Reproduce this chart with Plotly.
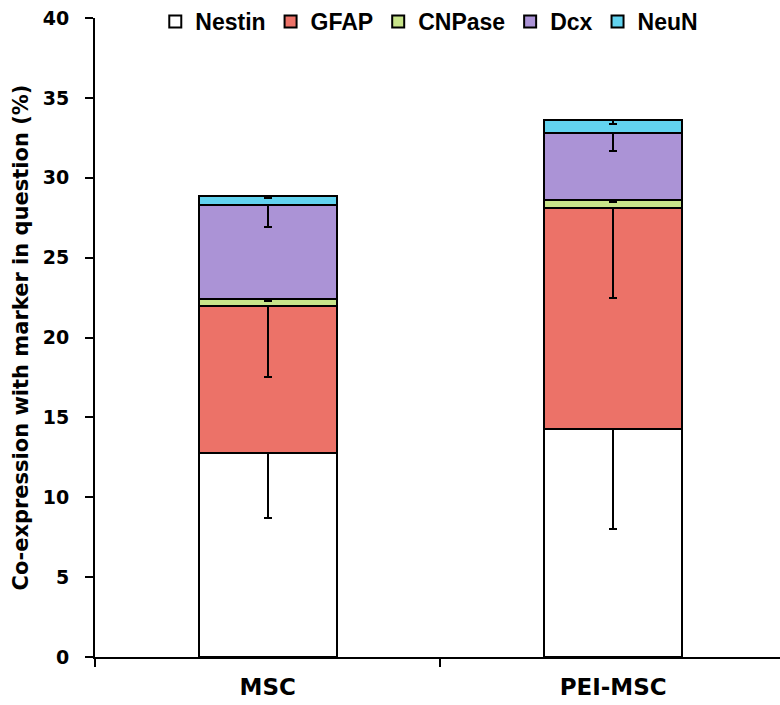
import plotly.graph_objects as go

categories = ["MSC", "PEI-MSC"]
markers = ["Nestin", "GFAP", "CNPase", "Dcx", "NeuN"]
nestin = [12.8, 14.25]
gfap = [9.2, 13.85]
cnpase = [0.4, 0.5]
dcx = [5.9, 4.2]
neun = [0.55, 0.8]
nestin_err = [4.1, 6.25]
gfap_err = [4.5, 5.6]
cnpase_err = [0.1, 0.1]
dcx_err = [1.4, 1.1]
neun_err = [0.1, 0.25]

values = [nestin, gfap, cnpase, dcx, neun]
errors = [nestin_err, gfap_err, cnpase_err, dcx_err, neun_err]
colors = ["#ffffff", "#ec7268", "#c8e48a", "#ab93d6", "#62d3ef"]

fig = go.Figure()
for name, v, e, c in zip(markers, values, errors, colors):
    fig.add_trace(go.Bar(
        x=categories, y=v, name=name,
        marker=dict(color=c, line=dict(color="black", width=2)),
        width=0.4,
        error_y=dict(type="data", symmetric=False, array=[0, 0], arrayminus=e,
                     color="black", thickness=2, width=4),
    ))

dejavu = "DejaVu Sans, Verdana, sans-serif"
arial = "Liberation Sans, Arial, sans-serif"
fig.update_layout(
    barmode="stack",
    width=780, height=705,
    margin=dict(l=95, r=0, t=17, b=48),
    plot_bgcolor="white", paper_bgcolor="white",
    font=dict(family=arial, size=18, color="black", weight="bold"),
    showlegend=True,
    legend=dict(orientation="h", traceorder="normal", x=0.488, xanchor="center",
                y=0.995, yanchor="middle",
                font=dict(family=arial, size=23, weight="bold"), itemwidth=30,
                bgcolor="rgba(0,0,0,0)"),
    xaxis=dict(range=[-0.5, 1.483], showline=True, linecolor="black", linewidth=2,
               ticks="outside", tickson="boundaries", ticklen=8, tickwidth=2,
               tickcolor="black", ticklabelstandoff=8,
               tickfont=dict(family=dejavu, size=23, weight="bold")),
    yaxis=dict(range=[0, 40], dtick=5, showline=True, linecolor="black", linewidth=2,
               ticks="outside", ticklen=8, tickwidth=2, tickcolor="black",
               showgrid=False, zeroline=False, ticklabelstandoff=12,
               tickfont=dict(family=dejavu, size=19, weight="bold"),
               title=dict(text="Co-expression with marker in question (%)",
                          font=dict(family=dejavu, size=21, weight="bold"), standoff=8)),
)

fig.write_html("out.html")
